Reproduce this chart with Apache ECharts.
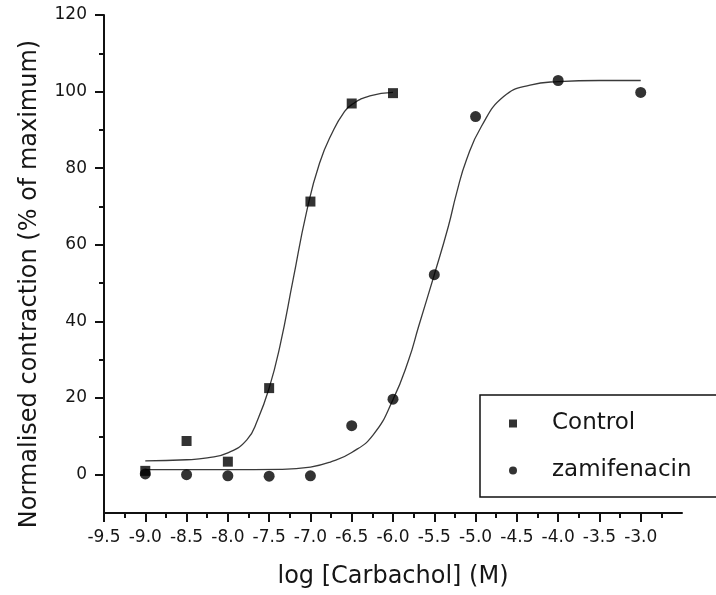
<!DOCTYPE html>
<html>
<head>
<meta charset="utf-8">
<script src="https://cdn.jsdelivr.net/npm/echarts@6/dist/echarts.min.js"></script>
<style>
  html, body { margin: 0; padding: 0; background: #fff; }
  #chart { width: 716px; height: 595px; }
</style>
</head>
<body>
<div id="chart"></div>
<script>
// measured points, log[Carbachol] vs % of maximum
const controlX = [-9.0, -8.5, -8.0, -7.5, -7.0, -6.5, -6.0];
const controlY = [1.0, 8.8, 3.4, 22.6, 71.3, 96.9, 99.6];
const zamiX = [-9.0, -8.5, -8.0, -7.5, -7.0, -6.5, -6.0, -5.5, -5.0, -4.0, -3.0];
const zamiY = [0.2, 0.0, -0.3, -0.4, -0.3, 12.8, 19.7, 52.2, 93.5, 102.9, 99.8];

// fitted curves
const controlFitX = [-9.0, -8.5, -8.25, -8.0, -7.77, -7.64, -7.5, -7.37, -7.21, -7.05, -6.89, -6.72, -6.6, -6.5, -6.28, -6.0];
const controlFitY = [3.6, 3.9, 4.4, 5.7, 9.1, 14.3, 22.6, 33.5, 50.9, 68.3, 81.3, 90.0, 94.4, 96.6, 98.9, 99.8];
const zamiFitX = [-9.0, -8.0, -7.37, -7.0, -6.76, -6.5, -6.24, -6.0, -5.81, -5.69, -5.5, -5.33, -5.23, -5.11, -4.93, -4.66, -4.34, -4.0, -3.5, -3.0];
const zamiFitY = [1.3, 1.3, 1.4, 2.0, 3.3, 5.8, 10.4, 19.6, 30.0, 38.7, 52.2, 64.8, 73.5, 82.2, 90.9, 98.7, 101.7, 102.6, 102.9, 102.9];

// ticks
const xMajor = [-9.5, -9.0, -8.5, -8.0, -7.5, -7.0, -6.5, -6.0, -5.5, -5.0, -4.5, -4.0, -3.5, -3.0];
const xMinor = [-9.25, -8.75, -8.25, -7.75, -7.25, -6.75, -6.25, -5.75, -5.25, -4.75, -4.25, -3.75, -3.25, -2.75];
const yMajor = [0, 20, 40, 60, 80, 100, 120];
const yMinor = [10, 30, 50, 70, 90, 110];

const pairs = (xs, ys) => xs.map((x, i) => [x, ys[i]]);

const font = 'DejaVu Sans';
const ink = '#161616';

const chart = echarts.init(document.getElementById('chart'), null, { renderer: 'canvas' });

chart.setOption({
  backgroundColor: '#fff',
  animation: false,
  grid: { left: 104, right: 34, top: 15, bottom: 82 },
  legend: {
    orient: 'vertical',
    left: 480,
    top: 395,
    padding: [16, 60, 14, 29],
    itemGap: 22,
    itemWidth: 8,
    itemHeight: 8,
    borderColor: '#111',
    borderWidth: 1.5,
    textStyle: { fontFamily: font, fontSize: 23, color: ink, padding: [0, 0, 0, 30], lineHeight: 25 },
    data: [
      { name: 'Control', icon: 'rect' },
      { name: 'zamifenacin', icon: 'circle' }
    ]
  },
  xAxis: [{
    type: 'value',
    min: -9.5,
    max: -2.5,
    name: 'log [Carbachol] (M)',
    nameLocation: 'middle',
    nameGap: 52,
    nameTextStyle: { fontFamily: font, fontSize: 24, color: ink },
    splitLine: { show: false },
    axisLine: { onZero: false, lineStyle: { color: '#111', width: 2 } },
    axisTick: { customValues: xMajor, length: 9, lineStyle: { color: '#111', width: 2 } },
    axisLabel: {
      customValues: xMajor,
      margin: 16,
      fontFamily: font, fontSize: 17, color: ink,
      formatter: v => v.toFixed(1)
    }
  }, {
    type: 'value',
    min: -9.5,
    max: -2.5,
    position: 'bottom',
    splitLine: { show: false },
    axisLine: { show: false, onZero: false },
    axisTick: { customValues: xMinor, length: 5, lineStyle: { color: '#111', width: 2 } },
    axisLabel: { show: false }
  }],
  yAxis: [{
    type: 'value',
    min: -10,
    max: 120,
    name: 'Normalised contraction (% of maximum)',
    nameLocation: 'middle',
    nameGap: 62,
    nameTextStyle: { fontFamily: font, fontSize: 24, color: ink, padding: [0, 40, 0, 0] },
    splitLine: { show: false },
    axisLine: { show: true, onZero: false, lineStyle: { color: '#111', width: 2 } },
    axisTick: { show: true, customValues: yMajor, length: 9, lineStyle: { color: '#111', width: 2 } },
    axisLabel: { customValues: yMajor, margin: 17, fontFamily: font, fontSize: 17, color: ink }
  }, {
    type: 'value',
    min: -10,
    max: 120,
    position: 'left',
    splitLine: { show: false },
    axisLine: { show: false, onZero: false },
    axisTick: { show: true, customValues: yMinor, length: 5, lineStyle: { color: '#111', width: 2 } },
    axisLabel: { show: false }
  }],
  series: [
    {
      name: 'Control fit',
      type: 'line',
      data: pairs(controlFitX, controlFitY),
      smooth: 0.5,
      showSymbol: false,
      silent: true,
      lineStyle: { color: '#3a3a3a', width: 1.3 },
      z: 1
    },
    {
      name: 'zamifenacin fit',
      type: 'line',
      data: pairs(zamiFitX, zamiFitY),
      smooth: 0.5,
      showSymbol: false,
      silent: true,
      lineStyle: { color: '#3a3a3a', width: 1.3 },
      z: 1
    },
    {
      name: 'Control',
      type: 'scatter',
      symbol: 'rect',
      symbolSize: 10,
      itemStyle: { color: '#000' },
      data: pairs(controlX, controlY),
      z: 3
    },
    {
      name: 'zamifenacin',
      type: 'scatter',
      symbol: 'circle',
      symbolSize: 11,
      itemStyle: { color: '#000' },
      data: pairs(zamiX, zamiY),
      z: 3
    }
  ]
});
</script>
</body>
</html>
